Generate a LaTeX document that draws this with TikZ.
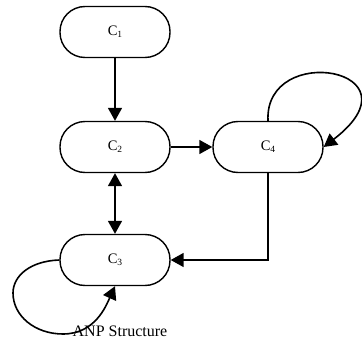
\documentclass[tikz,border=0pt]{standalone}
\usepackage{fontspec}
\setmainfont{Liberation Serif}
\usetikzlibrary{arrows.meta}
\newcommand\csub[1]{\raisebox{-0.35ex}{\fontsize{9.5}{9.5}\selectfont #1}}
\begin{document}
\begin{tikzpicture}[x=1pt,y=1pt,
  cbox/.style={draw,line width=1.4pt,rounded corners=25pt,minimum width=110pt,minimum height=51pt,inner sep=0pt,font=\fontsize{14.5}{15}\selectfont},
  tip/.tip={Triangle[length=13pt,width=14pt]},
  conn/.style={line width=1.6pt,-tip},
  dconn/.style={line width=1.6pt,tip-tip},
]
\useasboundingbox (0,0) rectangle (362,341);
\node[cbox] (c1) at (115,309) {C\csub{1}};
\node[cbox] (c2) at (115,194) {C\csub{2}};
\node[cbox] (c4) at (268,194) {C\csub{4}};
\node[cbox] (c3) at (115,81) {C\csub{3}};
\node[font=\fontsize{16}{18}\selectfont,inner sep=0pt] (title) at (120,10) {ANP Structure};
\draw[conn] (c1) -- (c2);
\draw[conn] (c2) -- (c4);
\draw[dconn] (c2) -- (c3);
\draw[conn] (c4.south) |- (c3.east);
\draw[conn] (c4.north) .. controls (264,300) and (425,272) .. (c4.east);
\draw[conn] (c3.west) .. controls (30,80) and (13,65) .. (13,48) .. controls (13,25) and (35,7) .. (63,7) .. controls (95,7) and (106,35) .. (c3.south);
\end{tikzpicture}
\end{document}
